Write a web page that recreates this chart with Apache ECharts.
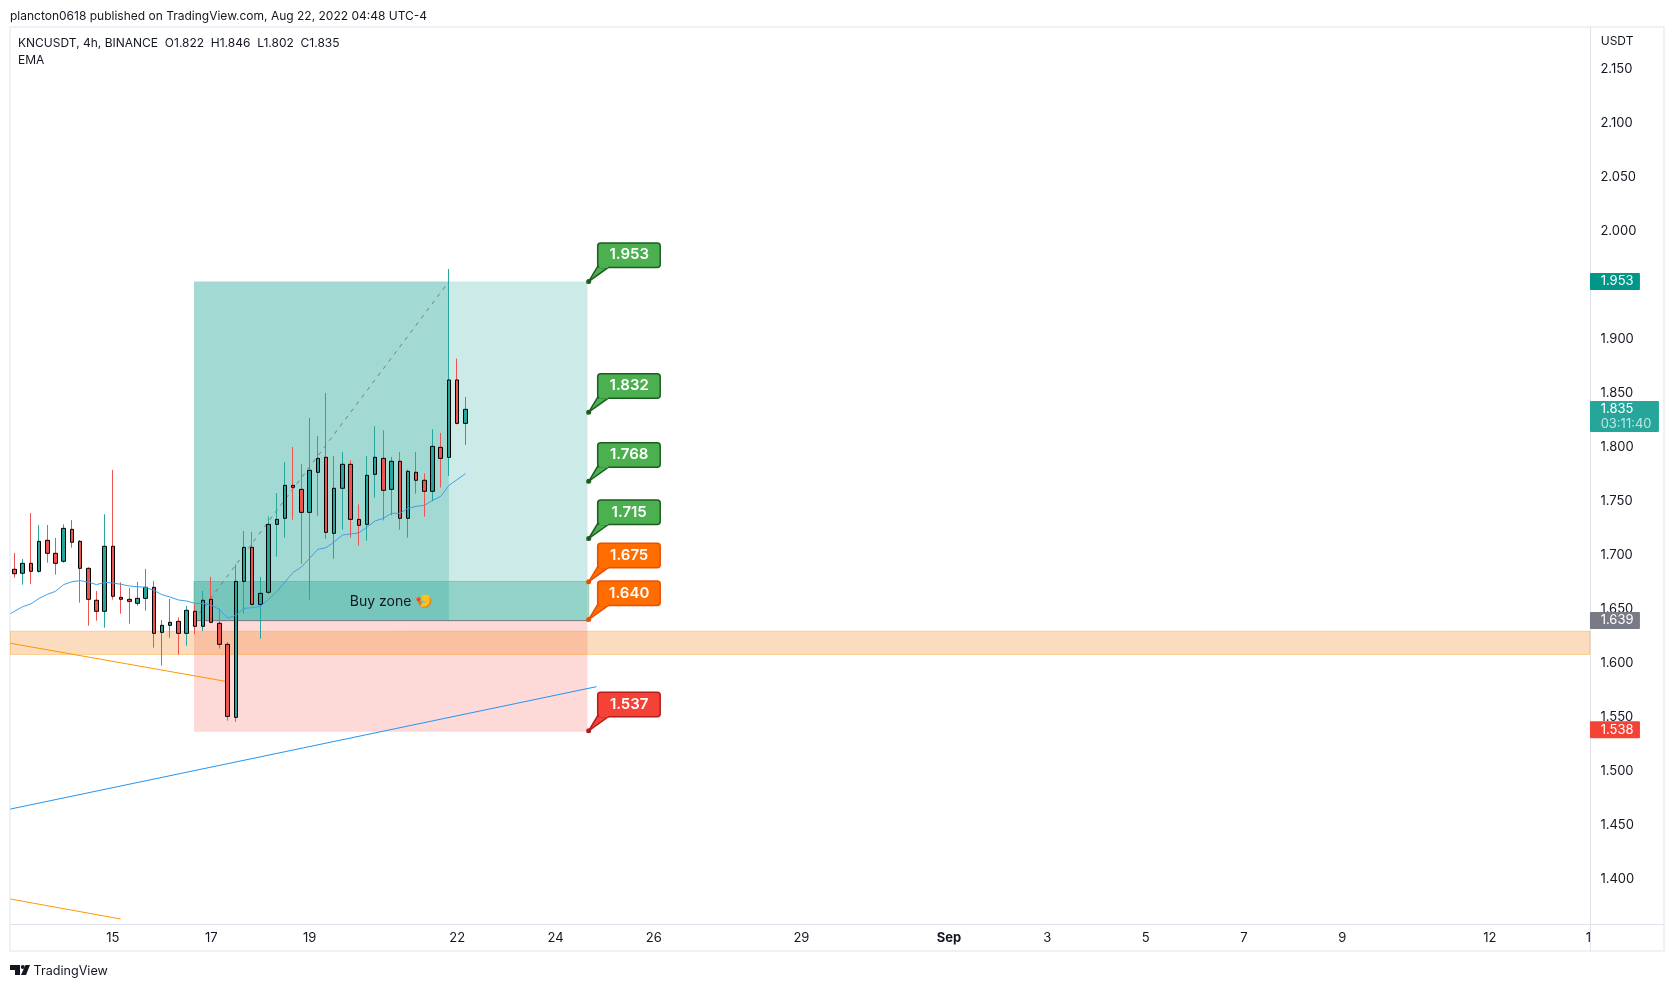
<!DOCTYPE html>
<html>
<head>
<meta charset="utf-8">
<style>
html,body{margin:0;padding:0;background:#fff;}
#main{width:1674px;height:986px;}
</style>
<script src="https://cdn.jsdelivr.net/npm/echarts@6/dist/echarts.min.js"></script>
</head>
<body>
<div id="main"></div>
<script>
// KNCUSDT 4h candles
var opens = [1.6865,1.6828,1.6920,1.6846,1.7133,1.7013,1.6939,1.7235,1.7124,1.6874,1.6578,1.6476,1.7078,1.6605,1.6587,1.6550,1.6596,1.6698,1.6281,1.6346,1.6383,1.6272,1.6476,1.6337,1.6587,1.6365,1.6170,1.5494,1.6753,1.7068,1.6540,1.6652,1.7281,1.7337,1.7642,1.7605,1.7392,1.7763,1.7902,1.7198,1.7615,1.7837,1.7327,1.7281,1.7744,1.7892,1.7605,1.7865,1.7337,1.7763,1.7689,1.7587,1.7994,1.7901,1.8618,1.8216];
var closes = [1.6824,1.6920,1.6846,1.7124,1.7013,1.6920,1.7244,1.7115,1.6874,1.6587,1.6476,1.7078,1.6615,1.6587,1.6568,1.6596,1.6698,1.6272,1.6346,1.6374,1.6272,1.6485,1.6337,1.6578,1.6374,1.6170,1.5503,1.6753,1.7068,1.6540,1.6642,1.7281,1.7327,1.7642,1.7624,1.7392,1.7781,1.7892,1.7207,1.7615,1.7837,1.7327,1.7272,1.7735,1.7902,1.7596,1.7865,1.7337,1.7772,1.7689,1.7587,1.8003,1.7892,1.8618,1.8216,1.8346];
var lows = [1.6787,1.6723,1.6729,1.6834,1.6926,1.6815,1.6926,1.7065,1.6556,1.6343,1.6389,1.6324,1.6584,1.6454,1.6361,1.6528,1.6482,1.6139,1.5973,1.6232,1.6074,1.6158,1.6263,1.6294,1.6365,1.6130,1.5463,1.5454,1.6454,1.6528,1.6222,1.6633,1.6982,1.7158,1.7324,1.6917,1.6584,1.7361,1.7148,1.6963,1.7232,1.7158,1.7084,1.7130,1.7528,1.7318,1.7365,1.7232,1.7158,1.7565,1.7352,1.7494,1.7621,1.7729,1.8207,1.8016];
var highs = [1.7016,1.6960,1.7386,1.7275,1.7275,1.7155,1.7281,1.7321,1.7136,1.6883,1.6664,1.7374,1.7784,1.6744,1.6692,1.6747,1.6868,1.6757,1.6395,1.6590,1.6420,1.6525,1.6540,1.6664,1.6794,1.6503,1.6192,1.6911,1.7219,1.7210,1.6794,1.7355,1.7571,1.7858,1.7997,1.7840,1.8266,1.8099,1.8497,1.7914,1.7951,1.7874,1.7466,1.7914,1.8189,1.8151,1.7905,1.7951,1.7790,1.7951,1.7753,1.8161,1.8127,1.9645,1.8816,1.8460];
var ema = [1.6476,1.6519,1.6544,1.6596,1.6633,1.6661,1.6723,1.6750,1.6760,1.6747,1.6723,1.6744,1.6738,1.6726,1.6710,1.6704,1.6698,1.6670,1.6630,1.6608,1.6581,1.6571,1.6550,1.6547,1.6531,1.6494,1.6414,1.6439,1.6503,1.6510,1.6522,1.6587,1.6658,1.6747,1.6837,1.6886,1.6966,1.7050,1.7065,1.7118,1.7182,1.7192,1.7201,1.7256,1.7312,1.7337,1.7383,1.7383,1.7429,1.7448,1.7457,1.7503,1.7540,1.7642,1.7695,1.7750];
var emaLead = [-0.5,1.6454];

var barCount = 193;
var xTickIndex = [12,24,36,54,66,78,96,114,126,138,150,162,180,192];
var xTickLabels = ['15','17','19','22','24','26','29','Sep','3','5','7','9','12','1'];
var yTicks = [1.4,1.45,1.5,1.55,1.6,1.65,1.7,1.75,1.8,1.85,1.9,1.95,2.0,2.05,2.1,2.15];

// position tool and zones
var targetPrice = 1.953, entryPrice = 1.639, stopPrice = 1.536;
var posLeft = 21.9, posNow = 53.0, posRight = 69.9;
var buyTop = 1.6752, buyBottom = 1.639, buyRight = 70.05;
var srTop = 1.6291, srBottom = 1.6076;
var chartEnd = 192.2;
var orangeLine1 = [[-0.5,1.6180],[25.7,1.5828]];
var orangeLine2 = [[-0.5,1.3812],[12.94,1.3627]];
var blueLine = [[-0.5,1.4645],[71.0,1.5778]];
var calloutPrices = [1.953,1.832,1.768,1.715,1.675,1.640,1.537];
var calloutTexts = ['1.953','1.832','1.768','1.715','1.675','1.640','1.537'];
var calloutKinds = ['g','g','g','g','o','o','r'];
var tagPrices = [1.953,1.639,1.538];
var tagTexts = ['1.953','1.639','1.538'];
var lastPrice = 1.835;

var uiFont = 'Inter, "Noto Sans", sans-serif';
var dark = '#131722';
var calloutColor = {
	g: {fill:'#4caf50',line:'#1b5e20'},
	o: {fill:'#ff6d00',line:'#e65100'},
	r: {fill:'#f44336',line:'#b71c1c'}
};
var tagColor = ['#009688','#787b86','#f44336'];

var categories = [];
for(var i=0;i<barCount;i++){
	categories.push(String(i));
}
var wickData = [], bodyData = [];
for(var k=0;k<opens.length;k++){
	wickData.push([opens[k],closes[k],lows[k],highs[k]]);
	bodyData.push([opens[k],closes[k],Math.min(opens[k],closes[k]),Math.max(opens[k],closes[k])]);
}
var emaData = [emaLead];
for(var m=0;m<ema.length;m++){
	emaData.push([m,ema[m]]);
}

function rectSeries(x0,x1,y0,y1,fill,stroke,z){
	return {
		type:'custom',xAxisIndex:1,yAxisIndex:0,z:z,silent:true,
		data:[[x0,x1,y0,y1]],
		renderItem:function(params,api){
			var a = api.coord([api.value(0),api.value(2)]);
			var b = api.coord([api.value(1),api.value(3)]);
			return {
				type:'rect',
				shape:{x:a[0],y:a[1],width:b[0]-a[0],height:b[1]-a[1]},
				style:{fill:fill,stroke:stroke||null,lineWidth:1}
			};
		}
	};
}
function lineSeries(data,color,z,dash){
	return {
		type:'line',xAxisIndex:1,yAxisIndex:0,z:z,silent:true,
		showSymbol:false,data:data,
		lineStyle:{color:color,width:1,type:dash||'solid'}
	};
}

var option = {
	animation:false,
	backgroundColor:'#fff',
	textStyle:{fontFamily:uiFont},
	grid:{left:10.4,width:1582,top:28,height:896,containLabel:false},
	xAxis:[
		{
			type:'category',data:categories,boundaryGap:true,
			axisLine:{show:false},axisTick:{show:false},splitLine:{show:false},
			axisLabel:{
				margin:8,color:dark,fontSize:13,fontFamily:uiFont,
				interval:function(idx){return xTickIndex.indexOf(idx)>=0;},
				formatter:function(v,idx){
					var label = xTickLabels[xTickIndex.indexOf(idx)];
					return label=='Sep' ? '{b|Sep}' : label;
				},
				rich:{b:{fontWeight:'bold',fontSize:13,color:dark,fontFamily:uiFont}}
			}
		},
		{type:'value',min:-0.5,max:barCount-0.5,show:false}
	],
	yAxis:[{
		type:'value',position:'right',scale:true,
		min:1.35806,max:2.18769,
		axisLine:{show:false},axisTick:{show:false},splitLine:{show:false},
		axisLabel:{
			margin:8,color:dark,fontSize:13,fontFamily:uiFont,
			customValues:yTicks,
			formatter:function(v){return v.toFixed(3);}
		}
	}],
	series:[
		rectSeries(posLeft,posRight,entryPrice,targetPrice,'rgba(0,150,136,0.2)',null,1),
		rectSeries(posLeft,posNow,entryPrice,targetPrice,'rgba(0,150,136,0.2)',null,1),
		rectSeries(posLeft,posRight,stopPrice,entryPrice,'rgba(244,67,54,0.2)',null,1),
		rectSeries(-0.5,chartEnd,srBottom,srTop,'rgba(242,140,40,0.3)','rgba(255,152,0,0.35)',1),
		rectSeries(posLeft,buyRight,buyBottom,buyTop,'rgba(17,157,134,0.3)','rgba(76,175,80,0.45)',1),
		lineSeries([[posLeft,entryPrice],[posRight,entryPrice]],'#787b86',2),
		lineSeries([[posLeft,entryPrice],[posNow,targetPrice]],'#787b86',2,[4,5]),
		lineSeries(orangeLine1,'#ff9800',2),
		lineSeries(orangeLine2,'#ff9800',2),
		lineSeries(blueLine,'#2196f3',2),
		{
			type:'candlestick',xAxisIndex:0,yAxisIndex:0,z:3,barWidth:1,silent:true,
			data:wickData,
			itemStyle:{color:'#26a69a',color0:'#ef5350',borderColor:'#26a69a',borderColor0:'#ef5350',borderWidth:1}
		},
		{
			type:'candlestick',xAxisIndex:0,yAxisIndex:0,z:4,barWidth:4,silent:true,
			data:bodyData,
			itemStyle:{color:'#26a69a',color0:'#ef5350',borderColor:'#000',borderColor0:'#000',borderWidth:1}
		},
		lineSeries(emaData,'#3f9fe8',5),
		{
			// buy zone caption
			type:'custom',xAxisIndex:1,yAxisIndex:0,z:6,silent:true,
			data:[[40.9,1.6565]],
			renderItem:function(params,api){
				var p = api.coord([api.value(0),api.value(1)]);
				return {
					type:'text',
					style:{x:p[0],y:p[1],text:'Buy zone 🍤',fill:dark,font:'14px '+uiFont,textAlign:'left',textVerticalAlign:'middle'}
				};
			}
		},
		{
			// price callouts on the right of the position tool
			type:'custom',xAxisIndex:1,yAxisIndex:0,z:6,silent:true,
			data:calloutPrices.map(function(p){return [buyRight,p];}),
			renderItem:function(params,api){
				var p = api.coord([api.value(0),api.value(1)]);
				var c = calloutColor[calloutKinds[params.dataIndex]];
				var x = p[0], y = p[1];
				return {
					type:'group',
					children:[
						{type:'polygon',shape:{points:[[x,y],[x+9,y-15],[x+21,y-15]]},style:{fill:c.fill,stroke:c.line,lineWidth:1.5}},
						{type:'rect',shape:{x:x+9,y:y-38.5,width:62.5,height:24.5,r:3},style:{fill:c.fill,stroke:c.line,lineWidth:1.5}},
						{type:'rect',shape:{x:x+10.5,y:y-16,width:9,height:2.5},style:{fill:c.fill}},
						{type:'circle',shape:{cx:x,cy:y,r:2.5},style:{fill:c.line}},
						{type:'text',style:{x:x+40.5,y:y-26.5,text:calloutTexts[params.dataIndex],fill:'#fff',font:'600 15px '+uiFont,textAlign:'center',textVerticalAlign:'middle'}}
					]
				};
			}
		},
		{
			// price tags on the axis
			type:'custom',xAxisIndex:1,yAxisIndex:0,z:7,silent:true,
			data:tagPrices.map(function(p){return [chartEnd,p];}),
			renderItem:function(params,api){
				var p = api.coord([api.value(0),api.value(1)]);
				return {
					type:'group',
					children:[
						{type:'rect',shape:{x:p[0],y:p[1]-8.5,width:50,height:17,r:1},style:{fill:tagColor[params.dataIndex]}},
						{type:'text',style:{x:p[0]+10.7,y:p[1],text:tagTexts[params.dataIndex],fill:'#fff',font:'13px '+uiFont,textVerticalAlign:'middle'}}
					]
				};
			}
		},
		{
			type:'custom',xAxisIndex:1,yAxisIndex:0,z:7,silent:true,
			data:[[chartEnd,lastPrice]],
			renderItem:function(params,api){
				var p = api.coord([api.value(0),api.value(1)]);
				return {
					type:'group',
					children:[
						{type:'rect',shape:{x:p[0],y:p[1]-8,width:69,height:31,r:1},style:{fill:'#26a69a'}},
						{type:'text',style:{x:p[0]+10.7,y:p[1],text:'1.835',fill:'#fff',font:'13px '+uiFont,textVerticalAlign:'middle'}},
						{type:'text',style:{x:p[0]+10.7,y:p[1]+15,text:'03:11:40',fill:'rgba(255,255,255,0.7)',font:'13px '+uiFont,textVerticalAlign:'middle'}}
					]
				};
			}
		}
	],
	graphic:[
		{type:'rect',silent:true,z:0,shape:{x:9,y:26,width:1656,height:2},style:{fill:'#f0f1f7'}},
		{type:'rect',silent:true,z:0,shape:{x:9,y:26,width:2,height:926},style:{fill:'#f0f1f7'}},
		{type:'rect',silent:true,z:0,shape:{x:1663,y:26,width:2,height:926},style:{fill:'#f0f1f7'}},
		{type:'rect',silent:true,z:0,shape:{x:9,y:950,width:1656,height:2},style:{fill:'#f0f1f7'}},
		{type:'rect',silent:true,z:0,shape:{x:10,y:924,width:1654,height:1},style:{fill:'#e0e3eb'}},
		{type:'rect',silent:true,z:0,shape:{x:1590,y:27,width:1,height:924},style:{fill:'#e0e3eb'}},
		{type:'text',silent:true,style:{x:10,y:16,text:'plancton0618 published on TradingView.com, Aug 22, 2022 04:48 UTC-4',fill:dark,font:'12px '+uiFont,textVerticalAlign:'middle'}},
		{type:'text',silent:true,style:{x:18,y:43,text:'KNCUSDT, 4h, BINANCE  O1.822  H1.846  L1.802  C1.835',fill:dark,font:'12px '+uiFont,textVerticalAlign:'middle'}},
		{type:'text',silent:true,style:{x:18,y:60,text:'EMA',fill:dark,font:'12px '+uiFont,textVerticalAlign:'middle'}},
		{type:'text',silent:true,style:{x:1600.7,y:41,text:'USDT',fill:dark,font:'12px '+uiFont,textVerticalAlign:'middle'}},
		// TradingView logo
		{type:'polygon',silent:true,shape:{points:[[10,965],[20,965],[20,975],[15,975],[15,970],[10,970]]},style:{fill:dark}},
		{type:'circle',silent:true,shape:{cx:22.8,cy:967,r:2},style:{fill:dark}},
		{type:'polygon',silent:true,shape:{points:[[25.5,965],[30,965],[26,975],[21,975]]},style:{fill:dark}},
		{type:'text',silent:true,style:{x:33.5,y:971,text:'TradingView',fill:dark,font:'12.6px '+uiFont,textVerticalAlign:'middle'}}
	]
};

var myChart = echarts.init(document.getElementById('main'));
myChart.setOption(option);
</script>
</body>
</html>
